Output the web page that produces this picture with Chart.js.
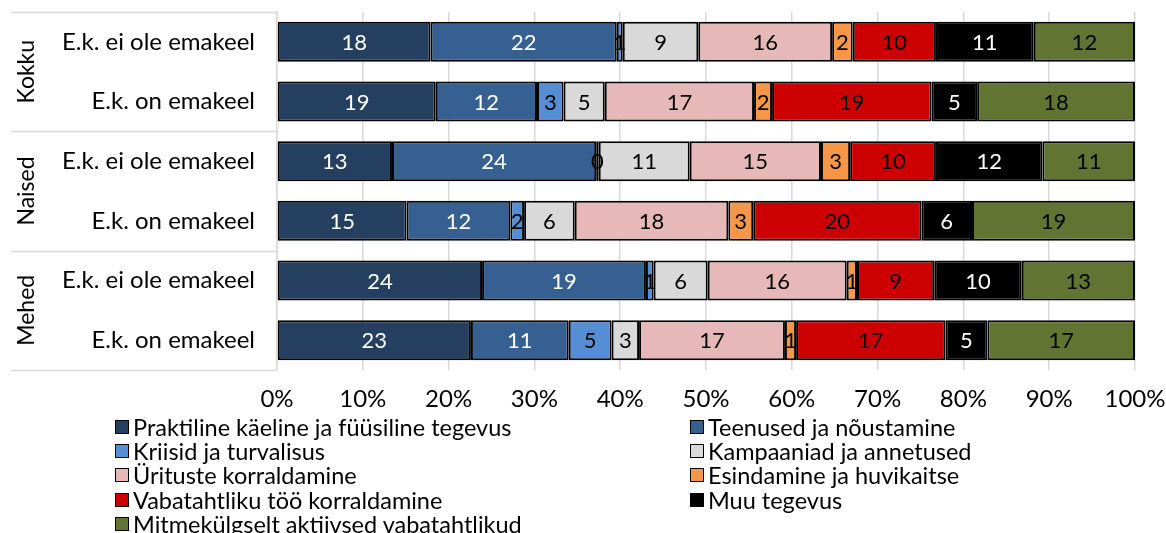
<!DOCTYPE html>
<html lang="et">
<head>
    <meta charset="UTF-8">
    <title>Vabatahtlik tegevus</title>
    <style>
        body {
            margin: 0;
            background: #fff;
            font-family: Lato, "Noto Sans", sans-serif;
        }
        #wrap {
            position: relative;
            width: 1166px;
            height: 533px;
        }
        #legend {
            position: absolute;
            left: 115px;
            top: 415px;
            display: grid;
            grid-template-columns: 575px 400px;
            grid-auto-rows: 24.2px;
            font-size: 23.5px;
            line-height: 24px;
            color: #000;
        }
        .item {
            display: flex;
            align-items: center;
            white-space: nowrap;
        }
        .box {
            width: 12px;
            height: 12px;
            border: 1.5px solid #000;
            margin-right: 4px;
            flex: none;
        }
    </style>
    <script src="https://cdn.jsdelivr.net/npm/chart.js"></script>
</head>
<body>
<div id="wrap">
    <canvas id="myChart"></canvas>
    <div id="legend"></div>
</div>
<script>
    // ridade sildid ja rühmad
    const rowLabels = ['E.k. ei ole emakeel', 'E.k. on emakeel',
                       'E.k. ei ole emakeel', 'E.k. on emakeel',
                       'E.k. ei ole emakeel', 'E.k. on emakeel'];
    const groupLabels = ['Kokku', 'Naised', 'Mehed'];

    // osakaalud, %
    const praktiline    = [17.9, 18.5, 13.4, 15.1, 23.9, 22.6];
    const teenused      = [21.7, 11.8, 23.8, 12.1, 19.1, 11.4];
    const kriisid       = [0.7, 3.1, 0.3, 1.6, 0.9, 5.0];
    const kampaaniad    = [8.8, 4.8, 10.6, 5.9, 6.3, 3.2];
    const uritused      = [15.6, 17.4, 15.3, 17.9, 16.2, 17.0];
    const esindamine    = [2.4, 2.1, 3.4, 2.9, 1.2, 1.3];
    const korraldamine  = [9.7, 18.6, 10.0, 19.6, 9.0, 17.4];
    const muu           = [11.4, 5.3, 12.4, 5.9, 10.2, 4.9];
    const mitmekulgselt = [11.8, 18.4, 10.8, 19.0, 13.2, 17.2];

    const xTicks = [0, 10, 20, 30, 40, 50, 60, 70, 80, 90, 100];

    const series = [
        { label: 'Praktiline käeline ja füüsiline tegevus', data: praktiline, color: '#243F60', text: '#fff' },
        { label: 'Teenused ja nõustamine', data: teenused, color: '#366092', text: '#fff' },
        { label: 'Kriisid ja turvalisus', data: kriisid, color: '#558ED5', text: '#000' },
        { label: 'Kampaaniad ja annetused', data: kampaaniad, color: '#D9D9D9', text: '#000' },
        { label: 'Ürituste korraldamine', data: uritused, color: '#E6B9B8', text: '#000' },
        { label: 'Esindamine ja huvikaitse', data: esindamine, color: '#F79646', text: '#000' },
        { label: 'Vabatahtliku töö korraldamine', data: korraldamine, color: '#CC0000', text: '#000' },
        { label: 'Muu tegevus', data: muu, color: '#000000', text: '#fff' },
        { label: 'Mitmekülgselt aktiivsed vabatahtlikud', data: mitmekulgselt, color: '#617431', text: '#000' }
    ];

    const FONT = 'Lato, "Noto Sans", sans-serif';

    // väärtuste sildid lõikude keskele
    const valueLabels = {
        id: 'valueLabels',
        afterDatasetsDraw(chart) {
            const ctx = chart.ctx;
            ctx.save();
            ctx.font = '22px ' + FONT;
            ctx.textAlign = 'center';
            ctx.textBaseline = 'middle';
            chart.data.datasets.forEach((ds, i) => {
                const meta = chart.getDatasetMeta(i);
                meta.data.forEach((bar, j) => {
                    const p = bar.getCenterPoint();
                    ctx.fillStyle = series[i].text;
                    ctx.fillText(String(Math.round(ds.data[j])), p.x, p.y + 1);
                });
            });
            ctx.restore();
        }
    };

    // rühmade sildid ja eraldusjooned vasakul
    const groupAxis = {
        id: 'groupAxis',
        afterDraw(chart) {
            const ctx = chart.ctx;
            const y = chart.scales.y;
            const area = chart.chartArea;
            ctx.save();
            ctx.strokeStyle = '#D9D9D9';
            ctx.lineWidth = 1.5;
            for (let g = 0; g <= groupLabels.length; g++) {
                let py;
                if (g === 0) py = area.top;
                else if (g === groupLabels.length) py = area.bottom;
                else py = (y.getPixelForValue(g * 2 - 1) + y.getPixelForValue(g * 2)) / 2;
                ctx.beginPath();
                ctx.moveTo(11, Math.round(py) + 0.5);
                ctx.lineTo(area.left - 1, Math.round(py) + 0.5);
                ctx.stroke();
            }
            ctx.fillStyle = '#000';
            ctx.font = '23px ' + FONT;
            ctx.textAlign = 'center';
            ctx.textBaseline = 'middle';
            groupLabels.forEach((name, g) => {
                const cy = (y.getPixelForValue(g * 2) + y.getPixelForValue(g * 2 + 1)) / 2;
                ctx.save();
                ctx.translate(27, cy);
                ctx.rotate(-Math.PI / 2);
                ctx.fillText(name, 0, 0);
                ctx.restore();
            });
            ctx.restore();
        }
    };

    function noPadding(scale) {
        scale.paddingTop = 0;
        scale.paddingBottom = 0;
        scale.paddingLeft = 0;
        scale.paddingRight = 0;
    }

    function buildLegend() {
        const el = document.getElementById('legend');
        series.forEach(s => {
            const item = document.createElement('div');
            item.className = 'item';
            const box = document.createElement('span');
            box.className = 'box';
            box.style.background = s.color;
            const txt = document.createElement('span');
            txt.textContent = s.label;
            item.appendChild(box);
            item.appendChild(txt);
            el.appendChild(item);
        });
    }

    Chart.defaults.font.family = FONT;
    Chart.defaults.color = '#000';

    const ctx = document.getElementById('myChart').getContext('2d');
    new Chart(ctx, {
        type: 'bar',
        data: {
            labels: rowLabels,
            datasets: series.map(s => ({
                label: s.label,
                data: s.data,
                backgroundColor: s.color,
                borderColor: '#000',
                borderWidth: 2,
                borderSkipped: false,
                categoryPercentage: 1,
                barPercentage: 0.67
            }))
        },
        options: {
            indexAxis: 'y',
            responsive: true,
            maintainAspectRatio: false,
            animation: false,
            layout: {
                padding: { left: 0, right: 31, top: 12, bottom: 0 }
            },
            scales: {
                x: {
                    stacked: true,
                    min: 0,
                    max: 100,
                    afterBuildTicks: scale => {
                        scale.ticks = xTicks.map(v => ({ value: v }));
                    },
                    afterFit: scale => { scale.height = 163; noPadding(scale); },
                    grid: { color: '#D9D9D9', lineWidth: 1.5, drawTicks: false },
                    border: { display: false },
                    ticks: {
                        font: { size: 24 },
                        padding: 15,
                        callback: v => v + '%'
                    }
                },
                y: {
                    stacked: true,
                    afterFit: scale => { scale.width = 277; noPadding(scale); },
                    grid: { display: false, drawTicks: false },
                    border: { display: true, color: '#D9D9D9', width: 1.5 },
                    ticks: {
                        font: { size: 24 },
                        padding: 22
                    }
                }
            },
            plugins: {
                legend: { display: false },
                tooltip: { enabled: false }
            }
        },
        plugins: [valueLabels, groupAxis]
    });

    buildLegend();
</script>
</body>
</html>
